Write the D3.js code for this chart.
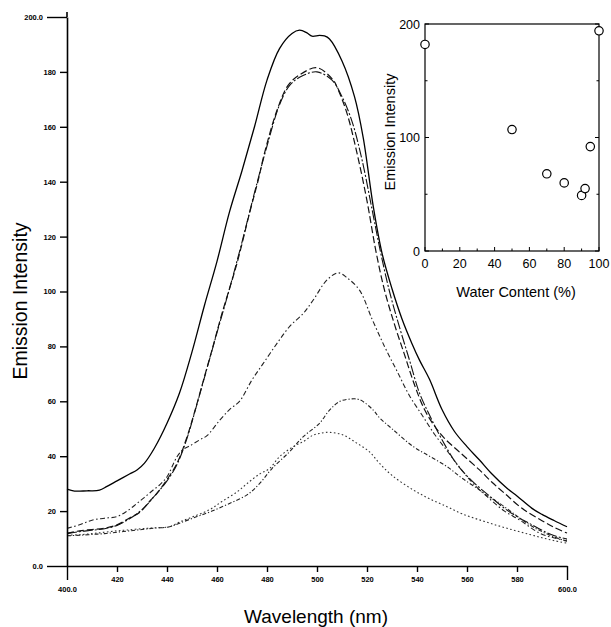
<!DOCTYPE html>
<html>
<head>
<meta charset="utf-8">
<script src="https://cdn.jsdelivr.net/npm/d3@7"></script>
<style>
  body { margin: 0; background: #fff; }
  svg { display: block; font-family: "Liberation Sans", Arial, sans-serif; }
</style>
</head>
<body>
<script>
  // emission spectra, [wavelength nm, intensity]
  var specSolid = [[400,28],[403,27.3],[408,27.4],[413,27.6],[416,29],[420,31],[425,33.5],[428,35],[431,37.5],[435,43],[440,52],[445,63],[450,78],[455,95],[460,111],[465,129],[470,144],[475,160],[480,177],[485,188.5],[490,194],[493,195.2],[496,194.2],[498,193],[501,193.3],[503,193.1],[505,192],[510,184],[515,171],[518.5,156],[522.5,131],[526,114],[530,101],[534,90],[538,81],[541,75],[545,68],[550,57],[555,49],[560,43.5],[565,38.6],[570,33.5],[576,28.3],[580,25.5],[586,21],[590,18.8],[595,16.5],[600,14.3]];
  var specDash = [[400,12],[405,12.8],[410,13.3],[415,13.8],[420,15],[425,17.5],[429,19.5],[433,23.5],[436,26.5],[440,31.5],[444,37.4],[448,47],[451,56],[455,69],[458,78.7],[462,92],[468,110.3],[473,128.5],[476.5,140.6],[479,150.4],[484,166],[488.5,175.2],[493,178.9],[500,181.5],[506.5,177],[508.5,173.4],[512,164.9],[516,150.4],[520,133],[523.5,115],[527,100.5],[531,88],[535,77],[539,66],[543,57],[547,51],[551,46.5],[557,41.5],[565,35],[570,30.5],[575,26.5],[582,21],[590,16.5],[595,14],[600,12]];
  var specDashDot = [[400,11.8],[405,12.5],[410,13],[415,13.6],[420,14.8],[425,17.2],[430,20.5],[435,25.5],[440,31],[444,37],[448,46.5],[452,59],[456,72],[460,85],[465,101],[470,118],[475,136],[480,153],[485,168],[489,175],[494,178.5],[500,180],[506,177],[510,171],[514,162],[518,148],[522,130],[525.5,114],[529,100],[533,87],[537,75],[541,63],[545,55],[550,46],[556,37],[562,31],[569,25.5],[575,21],[580,18],[585,15.5],[590,13],[595,11],[600,9.8]];
  var specMid = [[400,13.7],[405,15],[410,16.7],[415,17.4],[420,18],[424,20],[428,22.8],[431,25],[434.5,27.7],[437,29.5],[440,32.5],[444,39.8],[446.5,42.5],[449,43.7],[453,45.9],[456,47.5],[461,53],[465,57],[469,60],[474,67.8],[478.5,73.8],[484,81.1],[489,87.2],[494.5,92],[498.5,96.9],[504,104.2],[508.5,106.8],[512,105],[517,100.5],[522,90],[527,80],[532,71],[537,62],[542,55],[547,48],[552,42],[557,36],[562,30.5],[569,24.5],[575,20],[581,16.8],[589,12],[595,10.2],[600,9.2]];
  var specLow = [[400,11],[405,11.2],[410,11.5],[415,11.8],[420,12.3],[425,12.8],[430,13.3],[435,13.8],[441,14.3],[445,15.6],[452,18],[458,20],[465,22.8],[472,25.9],[477,30],[482,35.5],[489,41.6],[494.5,47.1],[501,52],[505,56.8],[509,59.9],[513,60.8],[517,60.6],[522.5,56.8],[525,54],[530,50],[538.5,43.5],[545,40],[552,36.2],[558,32],[565,27.7],[569,25],[572,23.5],[578.5,19.2],[585,15],[590,12.5],[595,10.5],[600,9]];
  var specLowest = [[400,11.2],[405,11.4],[410,11.8],[415,12.3],[420,12.8],[424,13.1],[430,13.6],[435,13.9],[441,14.3],[445,16],[450.5,18],[457,20.5],[462,23.5],[468,27],[472,30],[477,33.5],[481,35.5],[485,39.8],[490.5,43.5],[494.5,45.3],[498.5,47.7],[501,48.3],[505,48.7],[510.5,47.7],[516,44.7],[521,41.6],[525,37.4],[530,33],[538.5,27.7],[545,24.5],[552,21.6],[558,19],[565,16.8],[572,14.8],[578.5,13.1],[585,11.5],[590,10.3],[595,9.2],[600,8.3]];

  var xTicks = [400, 420, 440, 460, 480, 500, 520, 540, 560, 580, 600];
  var yTicks = [0, 20, 40, 60, 80, 100, 120, 140, 160, 180, 200];

  // inset: peak intensity vs water content
  var waterContent = [0, 50, 70, 80, 90, 92, 95, 100];
  var peakIntensity = [182, 107, 68, 60, 49, 55, 92, 194];
  var insetXTicks = [0, 20, 40, 60, 80, 100];
  var insetYTicks = [0, 100, 200];

  var W = 611, H = 627;

  var svg = d3.select("body").append("svg")
      .attr("width", W)
      .attr("height", H);

  // ---- main chart ----
  var x = d3.scaleLinear().domain([400, 600]).range([67, 567]);
  var y = d3.scaleLinear().domain([0, 200]).range([566, 17]);

  var series = [
    {data: specSolid,   dash: null,            color: "#000", w: 1.3},
    {data: specDash,    dash: "7,3",           color: "#111", w: 1.2},
    {data: specDashDot, dash: "10,2,2,2",      color: "#111", w: 1.1},
    {data: specMid,     dash: "5,2.5,1.5,2.5", color: "#222", w: 1.1},
    {data: specLow,     dash: "4,2,1.2,2",     color: "#222", w: 1.1},
    {data: specLowest,  dash: "1.6,2.4",       color: "#333", w: 1.1}
  ];

  var line = d3.line()
      .x(function(d) { return x(d[0]); })
      .y(function(d) { return y(d[1]); })
      .curve(d3.curveCatmullRom.alpha(0.5));

  svg.selectAll(".spec")
    .data(series)
    .enter().append("path")
      .attr("class", "spec")
      .attr("d", function(s) { return line(s.data); })
      .attr("fill", "none")
      .attr("stroke", function(s) { return s.color; })
      .attr("stroke-width", function(s) { return s.w; })
      .attr("stroke-dasharray", function(s) { return s.dash; });

  function endFmt(d, lo, hi) {
    return (d === lo || d === hi) ? d.toFixed(1) : d;
  }

  var yAxis = svg.append("g")
      .attr("transform", "translate(" + x(400) + ",0)")
      .call(d3.axisLeft(y).tickValues(yTicks).tickSize(7).tickSizeOuter(0)
        .tickFormat(function(d) { return endFmt(d, 0, 200); }));

  // axis line runs a little past the top tick
  yAxis.append("line")
      .attr("y1", y(200))
      .attr("y2", y(200) - 5)
      .attr("stroke", "#000")
      .attr("stroke-width", 1.6);

  var xAxis = svg.append("g")
      .attr("transform", "translate(0," + y(0) + ")")
      .call(d3.axisBottom(x).tickValues(xTicks).tickSize(6).tickSizeOuter(0)
        .tickFormat(function(d) { return endFmt(d, 400, 600); }));

  [yAxis, xAxis].forEach(function(g) {
    g.select(".domain").attr("stroke-width", 1.6).attr("stroke", "#000");
    g.selectAll(".tick line").attr("stroke-width", 1.4).attr("stroke", "#000");
    g.selectAll(".tick text")
      .attr("font-size", 7.5)
      .attr("font-weight", "bold")
      .attr("fill", "#000");
  });

  // longer end ticks, labels pushed out
  yAxis.selectAll(".tick").filter(function(d) { return d === 0 || d === 200; })
    .each(function() {
      d3.select(this).select("line").attr("x2", -20);
      d3.select(this).select("text").attr("x", -23);
    });
  yAxis.selectAll(".tick text").attr("dx", "-1");

  xAxis.selectAll(".tick").filter(function(d) { return d === 400 || d === 600; })
    .each(function() {
      d3.select(this).select("line").attr("y2", 14);
      d3.select(this).select("text").attr("y", 19);
    });
  xAxis.selectAll(".tick text").attr("dy", "0.9em");

  // axis titles
  svg.append("text")
      .attr("transform", "translate(27," + 301 + ") rotate(-90)")
      .attr("text-anchor", "middle")
      .attr("font-size", 19.5)
      .text("Emission Intensity");

  svg.append("text")
      .attr("x", 316)
      .attr("y", 623)
      .attr("text-anchor", "middle")
      .attr("font-size", 19)
      .text("Wavelength (nm)");

  // ---- inset ----
  var ix = d3.scaleLinear().domain([0, 100]).range([425, 599]);
  var iy = d3.scaleLinear().domain([0, 200]).range([251, 24]);

  var inset = svg.append("g");

  inset.append("rect")
      .attr("x", ix(0))
      .attr("y", iy(200))
      .attr("width", ix(100) - ix(0))
      .attr("height", iy(0) - iy(200))
      .attr("fill", "none")
      .attr("stroke", "#000")
      .attr("stroke-width", 1.2);

  // inward ticks (major + minor)
  var ixMinor = d3.range(10, 100, 20);
  var iyMinor = [50, 150];
  inset.selectAll(".ixt")
    .data(insetXTicks.concat(ixMinor))
    .enter().append("line")
      .attr("x1", function(d) { return ix(d); })
      .attr("x2", function(d) { return ix(d); })
      .attr("y1", iy(0))
      .attr("y2", function(d) { return iy(0) - (d % 20 === 0 ? 4 : 2.5); })
      .attr("stroke", "#000");
  [ix(0), ix(100)].forEach(function(px, k) {
    inset.selectAll(".iyt" + k)
      .data(insetYTicks.concat(iyMinor))
      .enter().append("line")
        .attr("x1", px)
        .attr("x2", function(d) { return px + (k ? -1 : 1) * (d % 100 === 0 ? 4 : 2.5); })
        .attr("y1", function(d) { return iy(d); })
        .attr("y2", function(d) { return iy(d); })
        .attr("stroke", "#000");
  });

  inset.selectAll(".ixl")
    .data(insetXTicks)
    .enter().append("text")
      .attr("x", function(d) { return ix(d); })
      .attr("y", 268)
      .attr("text-anchor", "middle")
      .attr("font-size", 12.5)
      .text(function(d) { return d; });

  inset.selectAll(".iyl")
    .data(insetYTicks)
    .enter().append("text")
      .attr("x", ix(0) - 5)
      .attr("y", function(d) { return iy(d); })
      .attr("dy", "0.36em")
      .attr("text-anchor", "end")
      .attr("font-size", 12.5)
      .text(function(d) { return d; });

  inset.selectAll("circle")
    .data(d3.zip(waterContent, peakIntensity))
    .enter().append("circle")
      .attr("cx", function(d) { return ix(d[0]); })
      .attr("cy", function(d) { return iy(d[1]); })
      .attr("r", 4.2)
      .attr("fill", "#fff")
      .attr("stroke", "#000")
      .attr("stroke-width", 1.2);

  inset.append("text")
      .attr("transform", "translate(395," + 132 + ") rotate(-90)")
      .attr("text-anchor", "middle")
      .attr("font-size", 14.5)
      .text("Emission Intensity");

  inset.append("text")
      .attr("x", 516)
      .attr("y", 297)
      .attr("text-anchor", "middle")
      .attr("font-size", 14.5)
      .text("Water Content (%)");
</script>
</body>
</html>
